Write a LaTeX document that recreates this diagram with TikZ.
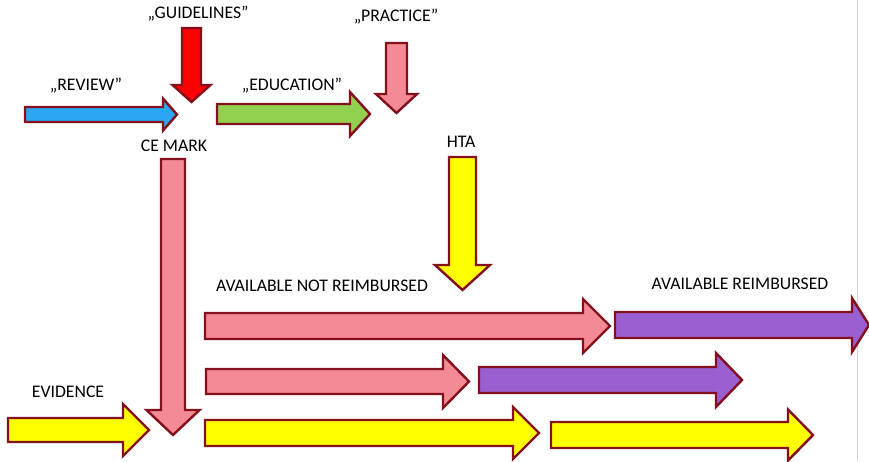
\documentclass[tikz,border=0pt]{standalone}
\usepackage{fontspec}
\setmainfont{Carlito}
\definecolor{edge}{HTML}{84101E}
\definecolor{pinkfill}{HTML}{F48A94}
\definecolor{bluefill}{HTML}{2AA6F2}
\definecolor{greenfill}{HTML}{92D050}
\definecolor{redfill}{HTML}{FF0000}
\definecolor{yellowfill}{HTML}{FFFF00}
\definecolor{purplefill}{HTML}{9A5FD0}
\definecolor{rule}{HTML}{D4D4D4}
\tikzset{
  blockarrow/.style={draw=edge, line width=2.4pt, line join=miter},
  caption/.style={font=\fontsize{17.7}{20}\selectfont, inner sep=0pt, anchor=center}
}
% right-pointing block arrow: fill, left x, head base x, tip x, centre y, half body, half head
\newcommand{\blockR}[7]{%
  \draw[blockarrow, fill=#1] (#2,{#5-#6}) -- (#3,{#5-#6}) -- (#3,{#5-#7}) -- (#4,#5)
    -- (#3,{#5+#7}) -- (#3,{#5+#6}) -- (#2,{#5+#6}) -- cycle;}
% downward block arrow: fill, top y, head base y, tip y, centre x, half body, half head
\newcommand{\blockD}[7]{%
  \draw[blockarrow, fill=#1] ({#5-#6},#2) -- ({#5-#6},#3) -- ({#5-#7},#3) -- (#5,#4)
    -- ({#5+#7},#3) -- ({#5+#6},#3) -- ({#5+#6},#2) -- cycle;}
\begin{document}
\begin{tikzpicture}[x=1pt, y=-1pt]
\useasboundingbox (0,0) rectangle (869,461);
\fill[white] (0,0) rectangle (869,461);
\draw[rule, line width=1pt] (857.5,0) -- (857.5,461);
\begin{scope}
\clip (0,0) rectangle (869,461);
% upper group
\blockR{bluefill}{25}{163}{177}{114.5}{7.5}{16}
\blockD{redfill}{28}{85}{102}{191.5}{9.5}{19}
\blockR{greenfill}{217}{350}{370}{114}{10}{22}
\blockD{pinkfill}{43}{94}{113}{396.5}{10.5}{20.5}
% long vertical arrows
\blockD{pinkfill}{159}{410}{435}{173}{12}{26.5}
\blockD{yellowfill}{157}{265}{290}{462.5}{13.5}{27.5}
% horizontal rows
\blockR{pinkfill}{205}{583}{610}{326}{13}{27}
\blockR{purplefill}{615}{852}{869}{325}{13}{27}
\blockR{pinkfill}{206}{443}{469}{381.5}{12.5}{26.5}
\blockR{purplefill}{479}{716}{742}{380}{13}{27}
\blockR{yellowfill}{8}{123}{149}{430}{12}{26}
\blockR{yellowfill}{205}{513}{539}{433}{13}{26}
\blockR{yellowfill}{551}{788}{813}{435}{13}{25.5}
\end{scope}
% labels
\node[caption] (guidelines) at (198,14) {„GUIDELINES”};
\node[caption] (practice) at (396,17) {„PRACTICE”};
\node[caption] (review) at (86,86) {„REVIEW”};
\node[caption] (education) at (292,86) {„EDUCATION”};
\node[caption] (cemark) at (174,146) {CE MARK};
\node[caption] (hta) at (461,142) {HTA};
\node[caption] (notreimb) at (322,286) {AVAILABLE NOT REIMBURSED};
\node[caption] (reimb) at (740,284) {AVAILABLE REIMBURSED};
\node[caption] (evidence) at (68,392) {EVIDENCE};
\end{tikzpicture}
\end{document}
